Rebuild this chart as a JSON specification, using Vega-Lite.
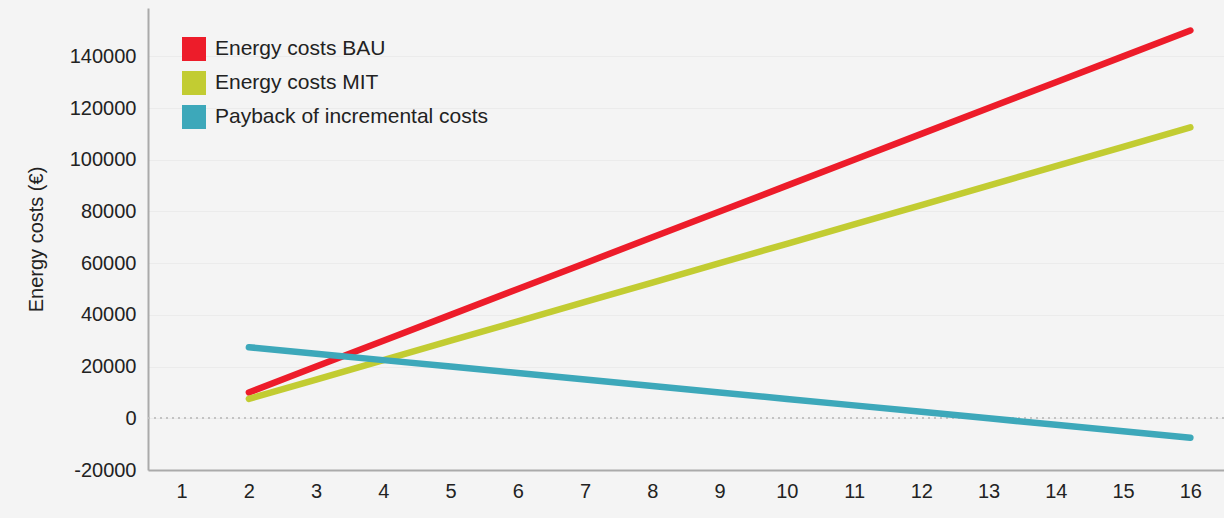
{
  "$schema": "https://vega.github.io/schema/vega-lite/v6.json",
  "autosize": {"type": "none"},
  "padding": {"left": 148, "top": 8, "right": 0, "bottom": 48},
  "width": 1076,
  "height": 462,
  "background": "#f4f4f4",
  "config": {
    "view": {"stroke": null},
    "font": "Liberation Sans"
  },
  "data": {
    "values": [
      {"year": 2, "series": "Energy costs BAU", "cost": 10000},
      {"year": 3, "series": "Energy costs BAU", "cost": 20000},
      {"year": 4, "series": "Energy costs BAU", "cost": 30000},
      {"year": 5, "series": "Energy costs BAU", "cost": 40000},
      {"year": 6, "series": "Energy costs BAU", "cost": 50000},
      {"year": 7, "series": "Energy costs BAU", "cost": 60000},
      {"year": 8, "series": "Energy costs BAU", "cost": 70000},
      {"year": 9, "series": "Energy costs BAU", "cost": 80000},
      {"year": 10, "series": "Energy costs BAU", "cost": 90000},
      {"year": 11, "series": "Energy costs BAU", "cost": 100000},
      {"year": 12, "series": "Energy costs BAU", "cost": 110000},
      {"year": 13, "series": "Energy costs BAU", "cost": 120000},
      {"year": 14, "series": "Energy costs BAU", "cost": 130000},
      {"year": 15, "series": "Energy costs BAU", "cost": 140000},
      {"year": 16, "series": "Energy costs BAU", "cost": 150000},
      {"year": 2, "series": "Energy costs MIT", "cost": 7500},
      {"year": 3, "series": "Energy costs MIT", "cost": 15000},
      {"year": 4, "series": "Energy costs MIT", "cost": 22500},
      {"year": 5, "series": "Energy costs MIT", "cost": 30000},
      {"year": 6, "series": "Energy costs MIT", "cost": 37500},
      {"year": 7, "series": "Energy costs MIT", "cost": 45000},
      {"year": 8, "series": "Energy costs MIT", "cost": 52500},
      {"year": 9, "series": "Energy costs MIT", "cost": 60000},
      {"year": 10, "series": "Energy costs MIT", "cost": 67500},
      {"year": 11, "series": "Energy costs MIT", "cost": 75000},
      {"year": 12, "series": "Energy costs MIT", "cost": 82500},
      {"year": 13, "series": "Energy costs MIT", "cost": 90000},
      {"year": 14, "series": "Energy costs MIT", "cost": 97500},
      {"year": 15, "series": "Energy costs MIT", "cost": 105000},
      {"year": 16, "series": "Energy costs MIT", "cost": 112500},
      {"year": 2, "series": "Payback of incremental costs", "cost": 27500},
      {"year": 3, "series": "Payback of incremental costs", "cost": 25000},
      {"year": 4, "series": "Payback of incremental costs", "cost": 22500},
      {"year": 5, "series": "Payback of incremental costs", "cost": 20000},
      {"year": 6, "series": "Payback of incremental costs", "cost": 17500},
      {"year": 7, "series": "Payback of incremental costs", "cost": 15000},
      {"year": 8, "series": "Payback of incremental costs", "cost": 12500},
      {"year": 9, "series": "Payback of incremental costs", "cost": 10000},
      {"year": 10, "series": "Payback of incremental costs", "cost": 7500},
      {"year": 11, "series": "Payback of incremental costs", "cost": 5000},
      {"year": 12, "series": "Payback of incremental costs", "cost": 2500},
      {"year": 13, "series": "Payback of incremental costs", "cost": 0},
      {"year": 14, "series": "Payback of incremental costs", "cost": -2500},
      {"year": 15, "series": "Payback of incremental costs", "cost": -5000},
      {"year": 16, "series": "Payback of incremental costs", "cost": -7500}
    ]
  },
  "layer": [
    {
      "mark": {"type": "rule", "color": "#c4c4c4", "strokeDash": [2, 4], "strokeWidth": 1},
      "encoding": {"y": {"datum": 0, "type": "quantitative"}}
    },
    {
      "mark": {"type": "line", "strokeWidth": 6.5, "strokeCap": "round"},
      "encoding": {
        "x": {
          "field": "year",
          "type": "quantitative",
          "scale": {"domain": [0.5, 16.5], "nice": false, "zero": false},
          "axis": {
            "values": [1, 2, 3, 4, 5, 6, 7, 8, 9, 10, 11, 12, 13, 14, 15, 16],
            "title": null,
            "grid": false,
            "ticks": false,
            "domainColor": "#aaaaaa",
            "domainWidth": 2,
            "labelFontSize": 20,
            "labelColor": "#222222",
            "labelPadding": 11,
            "labelFlush": false,
            "labelFont": "Liberation Sans"
          }
        },
        "y": {
          "field": "cost",
          "type": "quantitative",
          "scale": {"domain": [-20000, 158700], "nice": false, "zero": false},
          "axis": {
            "values": [-20000, 0, 20000, 40000, 60000, 80000, 100000, 120000, 140000],
            "labelExpr": "'' + datum.value",
            "title": "Energy costs (€)",
            "titleFontSize": 20,
            "titleFontWeight": "normal",
            "titleColor": "#222222",
            "titleFont": "Liberation Sans",
            "titlePadding": 23,
            "grid": true,
            "gridColor": "#ebebeb",
            "ticks": false,
            "domainColor": "#aaaaaa",
            "domainWidth": 2,
            "labelFontSize": 20,
            "labelColor": "#222222",
            "labelPadding": 12,
            "labelFont": "Liberation Sans"
          }
        },
        "color": {
          "field": "series",
          "type": "nominal",
          "scale": {
            "domain": ["Energy costs BAU", "Energy costs MIT", "Payback of incremental costs"],
            "range": ["#ed1c2a", "#c2cc32", "#3da8ba"]
          },
          "legend": {
            "title": null,
            "orient": "none",
            "legendX": 34,
            "legendY": 29,
            "symbolType": "square",
            "symbolSize": 576,
            "symbolStrokeWidth": 0,
            "labelFontSize": 21,
            "labelLimit": 0,
            "labelColor": "#222222",
            "labelFont": "Liberation Sans",
            "labelOffset": 9,
            "rowPadding": 10,
            "encode": {
              "symbols": {"update": {"fill": {"scale": "color", "field": "value"}, "opacity": {"value": 1}}}
            }
          }
        }
      }
    }
  ]
}
